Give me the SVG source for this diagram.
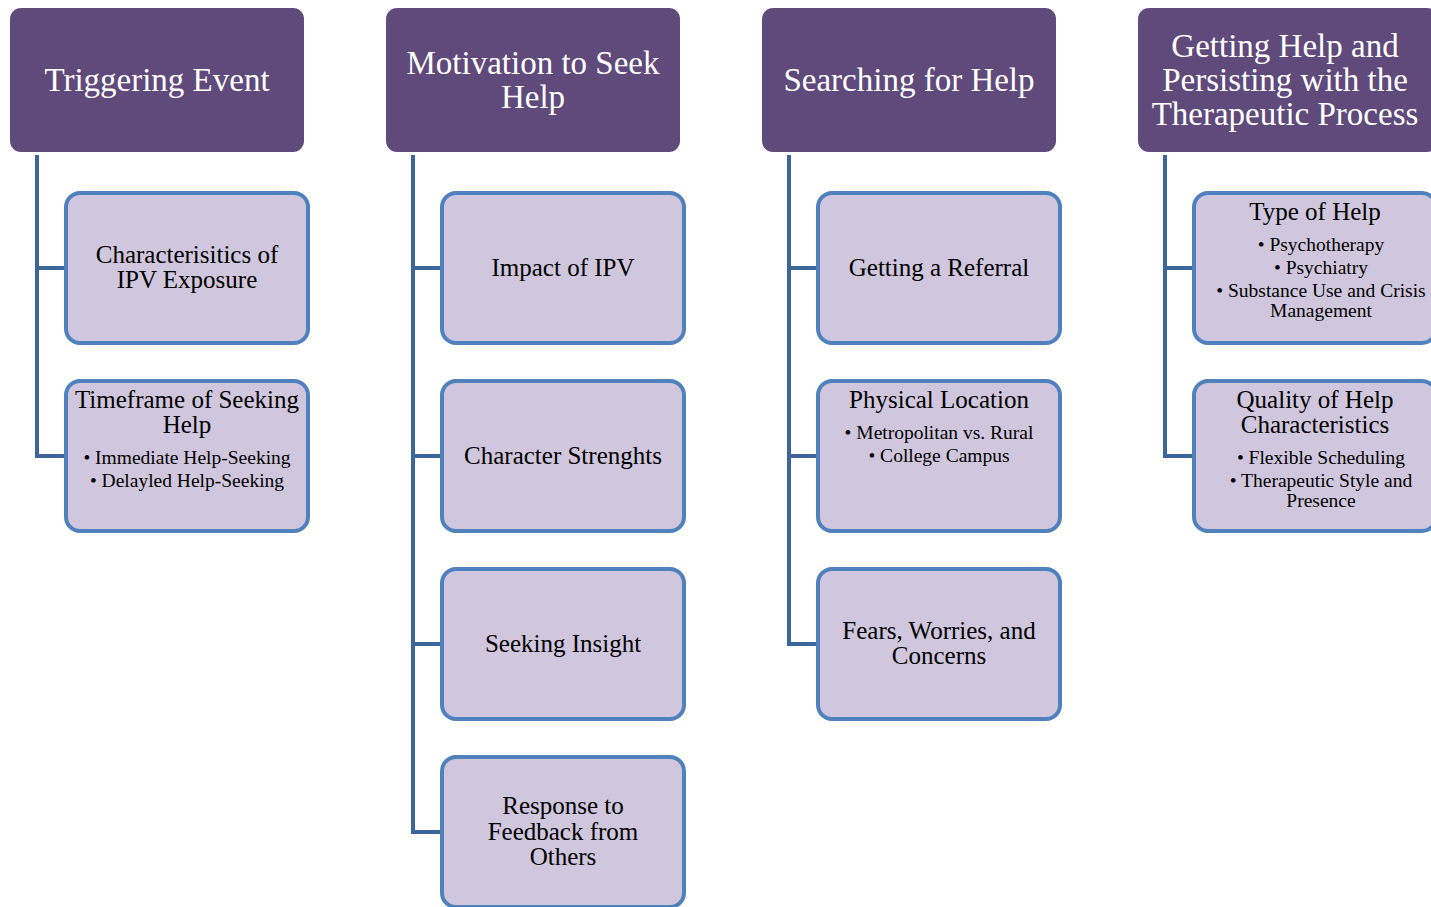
<svg xmlns="http://www.w3.org/2000/svg" width="1431" height="907" viewBox="0 0 1431 907">
<style>
.hdr{fill:#604a7b;}
.ht{fill:#ffffff;font-family:"Liberation Serif","DejaVu Serif",serif;font-size:33px;text-anchor:middle;}
.box{fill:#d0c7de;stroke:#4f81bd;stroke-width:4;}
.bt{fill:#000000;font-family:"Liberation Serif","DejaVu Serif",serif;font-size:25px;text-anchor:middle;}
.bl{fill:#000000;font-family:"Liberation Serif","DejaVu Serif",serif;font-size:19.5px;text-anchor:middle;}
.con{fill:none;stroke:#3d6698;stroke-width:4;}
</style>
<rect width="1431" height="907" fill="#ffffff"/>
<g id="connectors">
<path class="con" d="M37 155 V456 H66 M37 268 H66"/>
<path class="con" d="M413 155 V832 H442 M413 268 H442 M413 456 H442 M413 644 H442"/>
<path class="con" d="M789 155 V644 H818 M789 268 H818 M789 456 H818"/>
<path class="con" d="M1165 155 V456 H1194 M1165 268 H1194"/>
</g>
<g id="h1"><rect class="hdr" x="10" y="8" width="294" height="144" rx="11"/><text class="ht" x="157" y="91">Triggering Event</text></g>
<g id="h2"><rect class="hdr" x="386" y="8" width="294" height="144" rx="11"/><text class="ht" x="533" y="74">Motivation to Seek</text><text class="ht" x="533" y="108">Help</text></g>
<g id="h3"><rect class="hdr" x="762" y="8" width="294" height="144" rx="11"/><text class="ht" x="909" y="91">Searching for Help</text></g>
<g id="h4"><rect class="hdr" x="1138" y="8" width="300" height="144" rx="11"/><text class="ht" x="1285" y="57">Getting Help and</text><text class="ht" x="1285" y="91">Persisting with the</text><text class="ht" x="1285" y="125">Therapeutic Process</text></g>

<g id="c1a"><rect class="box" x="66" y="193" width="242" height="150" rx="14"/><text class="bt" x="187" y="263">Characterisitics of</text><text class="bt" x="187" y="288">IPV Exposure</text></g>
<g id="c1b"><rect class="box" x="66" y="381" width="242" height="150" rx="14"/><text class="bt" x="187" y="408">Timeframe of Seeking</text><text class="bt" x="187" y="433">Help</text><text class="bl" x="187" y="464">• Immediate Help-Seeking</text><text class="bl" x="187" y="487">• Delayled Help-Seeking</text></g>

<g id="c2a"><rect class="box" x="442" y="193" width="242" height="150" rx="14"/><text class="bt" x="563" y="276">Impact of IPV</text></g>
<g id="c2b"><rect class="box" x="442" y="381" width="242" height="150" rx="14"/><text class="bt" x="563" y="464">Character Strenghts</text></g>
<g id="c2c"><rect class="box" x="442" y="569" width="242" height="150" rx="14"/><text class="bt" x="563" y="652">Seeking Insight</text></g>
<g id="c2d"><rect class="box" x="442" y="757" width="242" height="150" rx="14"/><text class="bt" x="563" y="814">Response to</text><text class="bt" x="563" y="840">Feedback from</text><text class="bt" x="563" y="865">Others</text></g>

<g id="c3a"><rect class="box" x="818" y="193" width="242" height="150" rx="14"/><text class="bt" x="939" y="276">Getting a Referral</text></g>
<g id="c3b"><rect class="box" x="818" y="381" width="242" height="150" rx="14"/><text class="bt" x="939" y="408">Physical Location</text><text class="bl" x="939" y="439">• Metropolitan vs. Rural</text><text class="bl" x="939" y="462">• College Campus</text></g>
<g id="c3c"><rect class="box" x="818" y="569" width="242" height="150" rx="14"/><text class="bt" x="939" y="639">Fears, Worries, and</text><text class="bt" x="939" y="664">Concerns</text></g>

<g id="c4a"><rect class="box" x="1194" y="193" width="242" height="150" rx="14"/><text class="bt" x="1315" y="220">Type of Help</text><text class="bl" x="1321" y="251">• Psychotherapy</text><text class="bl" x="1321" y="274">• Psychiatry</text><text class="bl" x="1321" y="297">• Substance Use and Crisis</text><text class="bl" x="1321" y="317">Management</text></g>
<g id="c4b"><rect class="box" x="1194" y="381" width="242" height="150" rx="14"/><text class="bt" x="1315" y="408">Quality of Help</text><text class="bt" x="1315" y="433">Characteristics</text><text class="bl" x="1321" y="464">• Flexible Scheduling</text><text class="bl" x="1321" y="487">• Therapeutic Style and</text><text class="bl" x="1321" y="507">Presence</text></g>
</svg>
